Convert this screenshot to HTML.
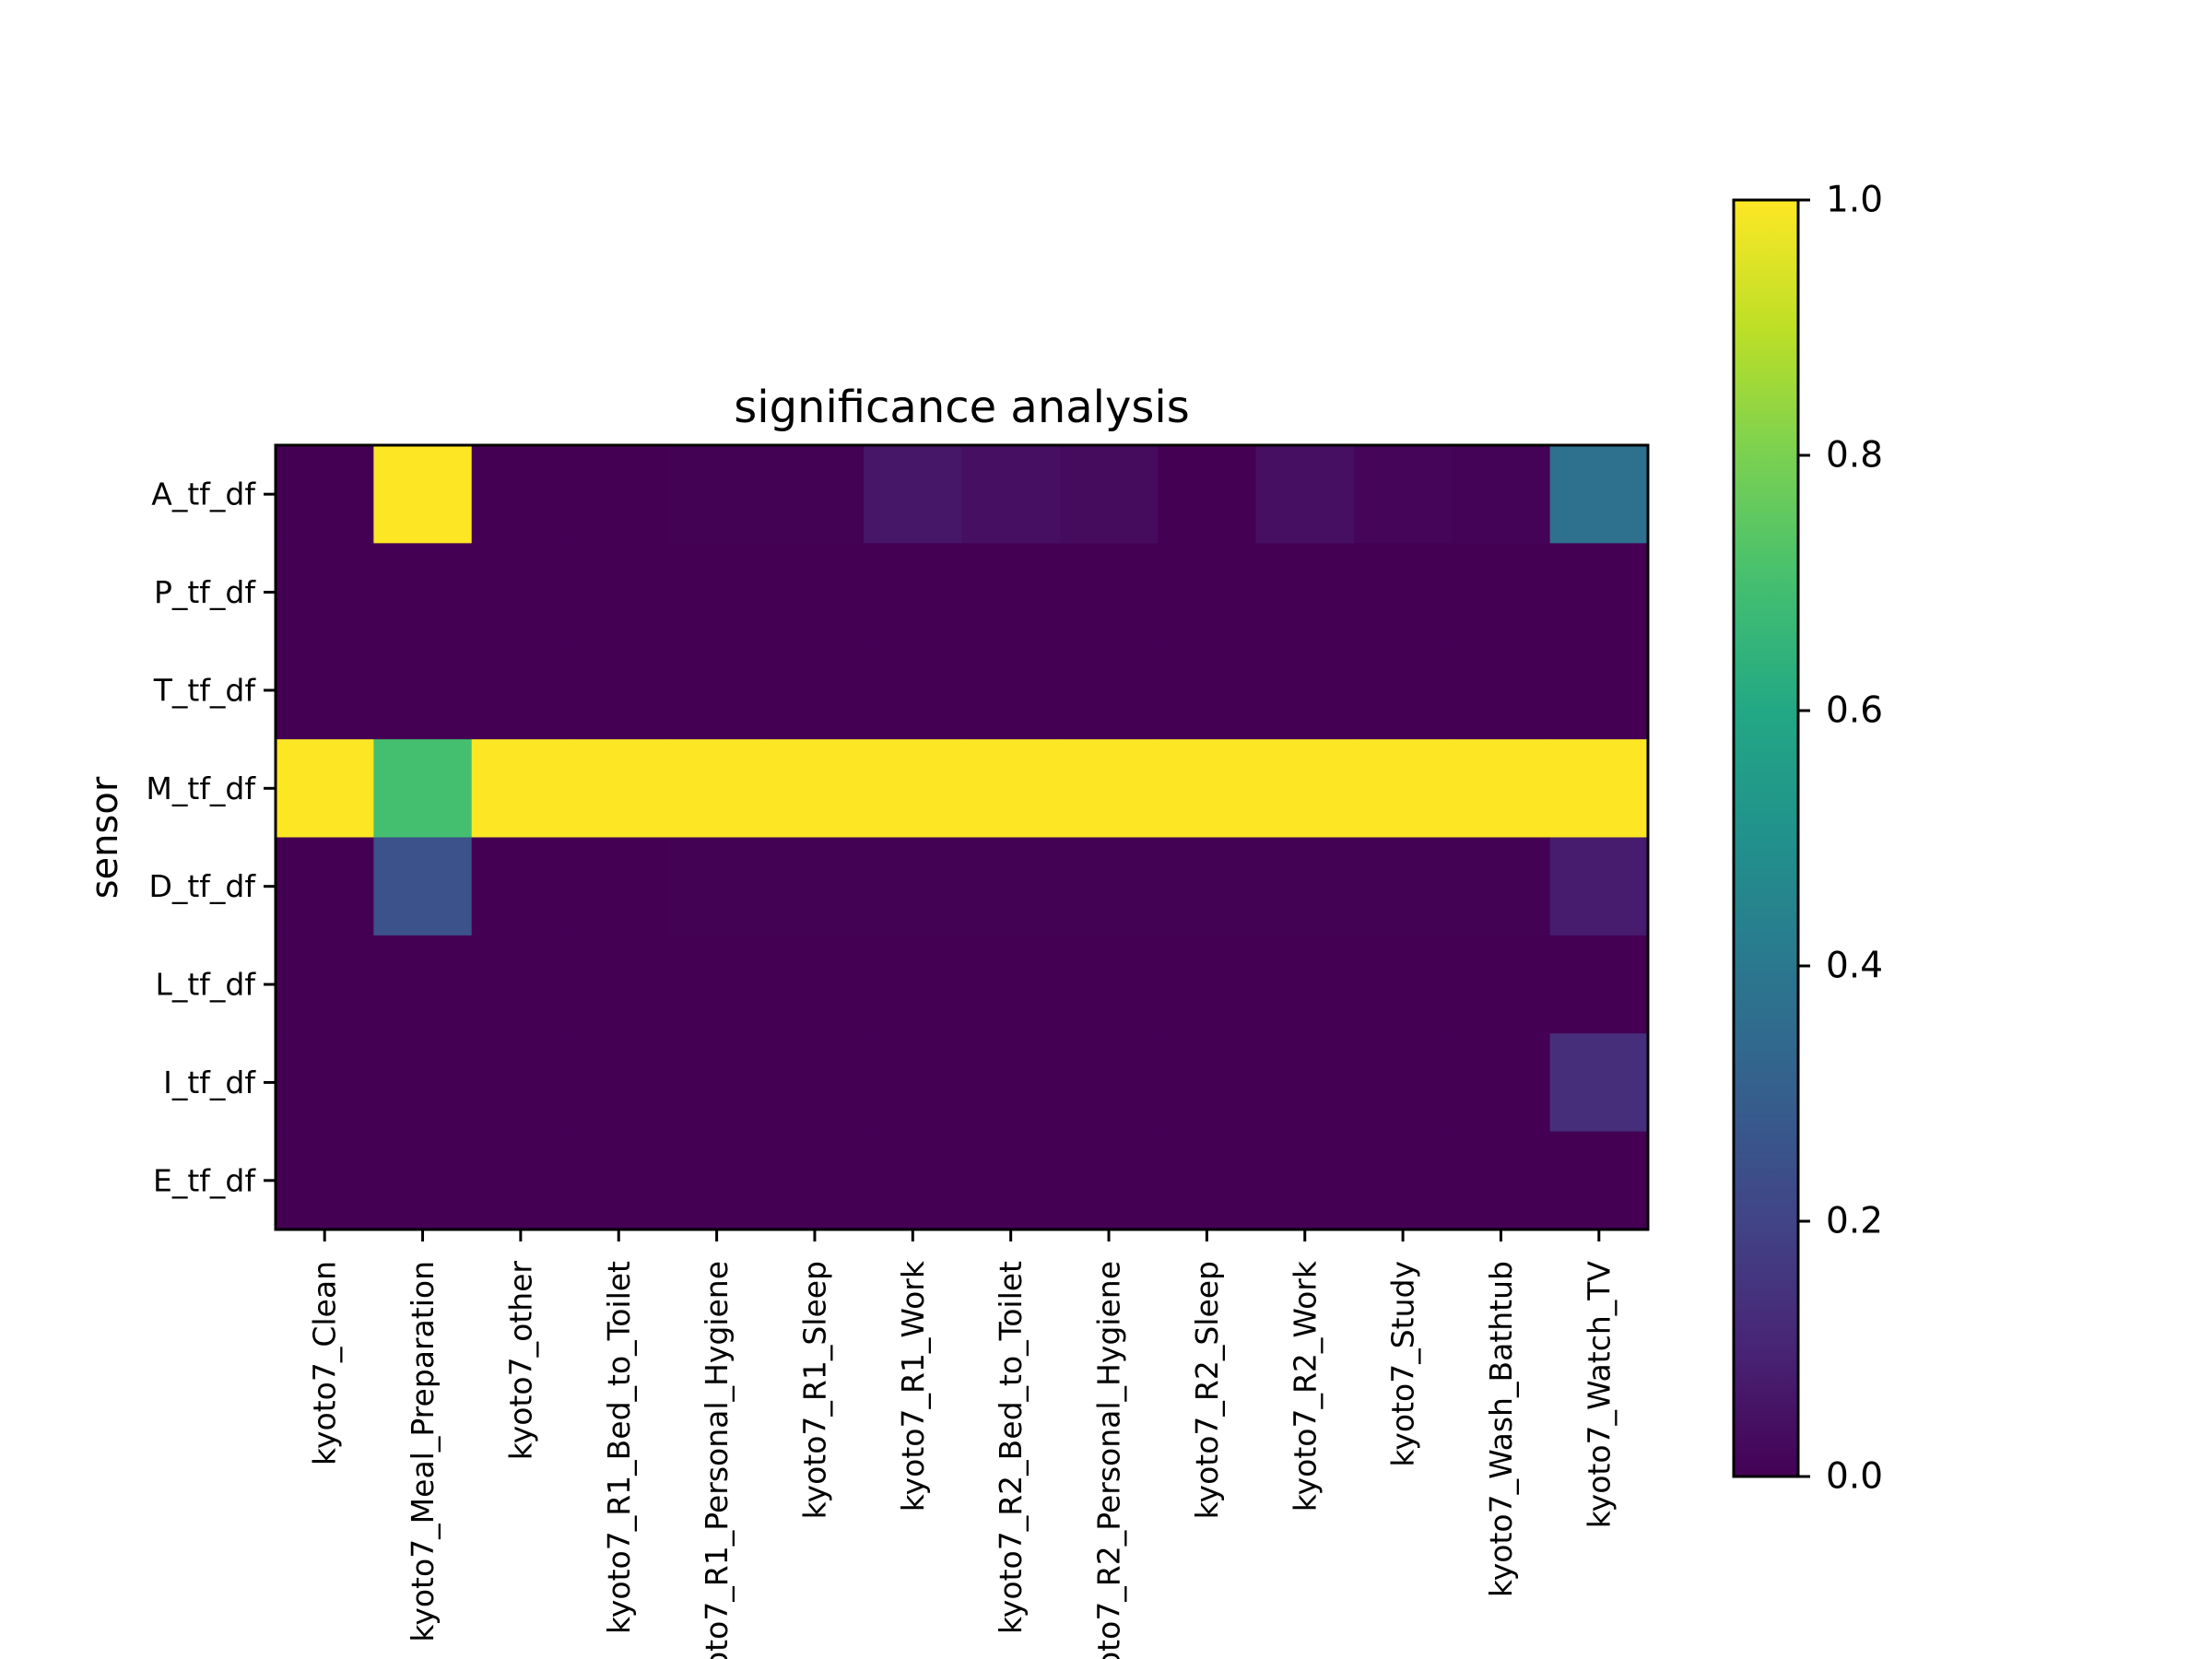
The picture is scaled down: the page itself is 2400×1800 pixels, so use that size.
<!DOCTYPE html>
<html><head><meta charset="utf-8"><style>
html,body{margin:0;padding:0;background:#fff;}
svg{display:block;font-family:"DejaVu Sans","Liberation Sans",sans-serif;}
</style></head><body>
<svg id="chart" width="2400" height="1800" viewBox="0 0 2400 1800" xmlns="http://www.w3.org/2000/svg">
<defs>
<linearGradient id="vir" x1="0" y1="1" x2="0" y2="0">
<stop offset="0" stop-color="#440154"/><stop offset="0.1" stop-color="#482475"/><stop offset="0.2" stop-color="#414487"/><stop offset="0.3" stop-color="#355f8d"/><stop offset="0.4" stop-color="#2a788e"/><stop offset="0.5" stop-color="#21918c"/><stop offset="0.6" stop-color="#22a884"/><stop offset="0.7" stop-color="#44bf70"/><stop offset="0.8" stop-color="#7ad151"/><stop offset="0.9" stop-color="#bddf26"/><stop offset="1" stop-color="#fde725"/>
</linearGradient>
</defs>
<g id="cells"></g>
<g id="axes"></g>
<text x="1043.5" y="458" font-size="48" text-anchor="middle">significance analysis</text>
<text x="0" y="0" font-size="40" text-anchor="middle" transform="translate(127,909) rotate(-90)">sensor</text>
<rect x="1881" y="217" width="70" height="1385" fill="url(#vir)" stroke="#000" stroke-width="3"/>
<g id="cbticks"></g>
</svg>
<script>
const categories = ["kyoto7_Clean","kyoto7_Meal_Preparation","kyoto7_other","kyoto7_R1_Bed_to_Toilet","kyoto7_R1_Personal_Hygiene","kyoto7_R1_Sleep","kyoto7_R1_Work","kyoto7_R2_Bed_to_Toilet","kyoto7_R2_Personal_Hygiene","kyoto7_R2_Sleep","kyoto7_R2_Work","kyoto7_Study","kyoto7_Wash_Bathtub","kyoto7_Watch_TV"];
const sensors = ["A_tf_df","P_tf_df","T_tf_df","M_tf_df","D_tf_df","L_tf_df","I_tf_df","E_tf_df"];
const rowA = [0,1,0,0,0.002,0.002,0.06,0.04,0.03,0,0.04,0.015,0.005,0.37];
const rowP = [0,0,0,0,0,0,0,0,0,0,0,0,0,0];
const rowT = [0,0,0,0,0,0,0,0,0,0,0,0,0,0];
const rowM = [1,0.7,1,1,1,1,1,1,1,1,1,1,1,1];
const rowD = [0,0.25,0,0,0.002,0.002,0.004,0.003,0.002,0.002,0.004,0.003,0.002,0.075];
const rowL = [0,0,0,0,0,0,0,0,0,0,0,0,0,0];
const rowI = [0,0,0,0,0,0,0,0,0,0,0,0,0,0.13];
const rowE = [0,0,0,0,0,0,0,0,0,0,0,0,0,0];
const cbTicks = [0,0.2,0.4,0.6,0.8,1.0];
const cbTickLabels = ["0.0","0.2","0.4","0.6","0.8","1.0"];

const rows=[rowA,rowP,rowT,rowM,rowD,rowL,rowI,rowE];
const L=299,R=1788,T=483,B=1334;
const cw=(R-L)/categories.length, ch=(B-T)/sensors.length;
const xPos=i=>L+i*cw, yPos=j=>T+j*ch;
const cbY=v=>1602-v*(1602-217);
const stops=["#440154","#482475","#414487","#355f8d","#2a788e","#21918c","#22a884","#44bf70","#7ad151","#bddf26","#fde725"].map(h=>[1,3,5].map(k=>parseInt(h.substr(k,2),16)));
function viridis(v){v=Math.max(0,Math.min(1,v));const t=v*10,i=Math.min(9,Math.floor(t)),f=t-i;const a=stops[i],b=stops[i+1];return "rgb("+a.map((c,k)=>Math.round(c+(b[k]-c)*f)).join(",")+")";}
const NS="http://www.w3.org/2000/svg";
function mk(tag,attrs,parent,txt){const e=document.createElementNS(NS,tag);for(const k in attrs)e.setAttribute(k,attrs[k]);if(txt!==undefined)e.textContent=txt;parent.appendChild(e);return e;}
const cells=document.getElementById('cells'),axes=document.getElementById('axes'),cbt=document.getElementById('cbticks');
rows.forEach((row,j)=>row.forEach((v,i)=>{
  const r=mk('rect',{x:xPos(i),y:yPos(j),width:cw+0.6,height:ch+0.6,fill:viridis(v)},cells);
  
  
}));
const fr=mk('rect',{x:L,y:T,width:R-L,height:B-T,fill:'none',stroke:'#000','stroke-width':3},axes);


categories.forEach((c,i)=>{
  const x=xPos(i)+cw/2;
  const tk=mk('line',{x1:x,y1:B,x2:x,y2:B+13,stroke:'#000','stroke-width':3},axes);
  
  
  const t=mk('text',{x:0,y:0,'font-size':33,'text-anchor':'end','dominant-baseline':'central',transform:`translate(${x},${B+34}) rotate(-90)`},axes,c);
  
  
});
sensors.forEach((s,j)=>{
  const y=yPos(j)+ch/2;
  const tk=mk('line',{x1:L-13,y1:y,x2:L,y2:y,stroke:'#000','stroke-width':3},axes);
  
  
  const t=mk('text',{x:L-22,y:y,'font-size':33,'text-anchor':'end','dominant-baseline':'central'},axes,s);
  
  
});
cbTicks.forEach((v,k)=>{
  const y=cbY(v);
  const tk=mk('line',{x1:1951,y1:y,x2:1964,y2:y,stroke:'#000','stroke-width':3},cbt);
  
  
  const t=mk('text',{x:1981,y:y,'font-size':39,'dominant-baseline':'central'},cbt,cbTickLabels[k]);
  
  
});
</script>
</body></html>
